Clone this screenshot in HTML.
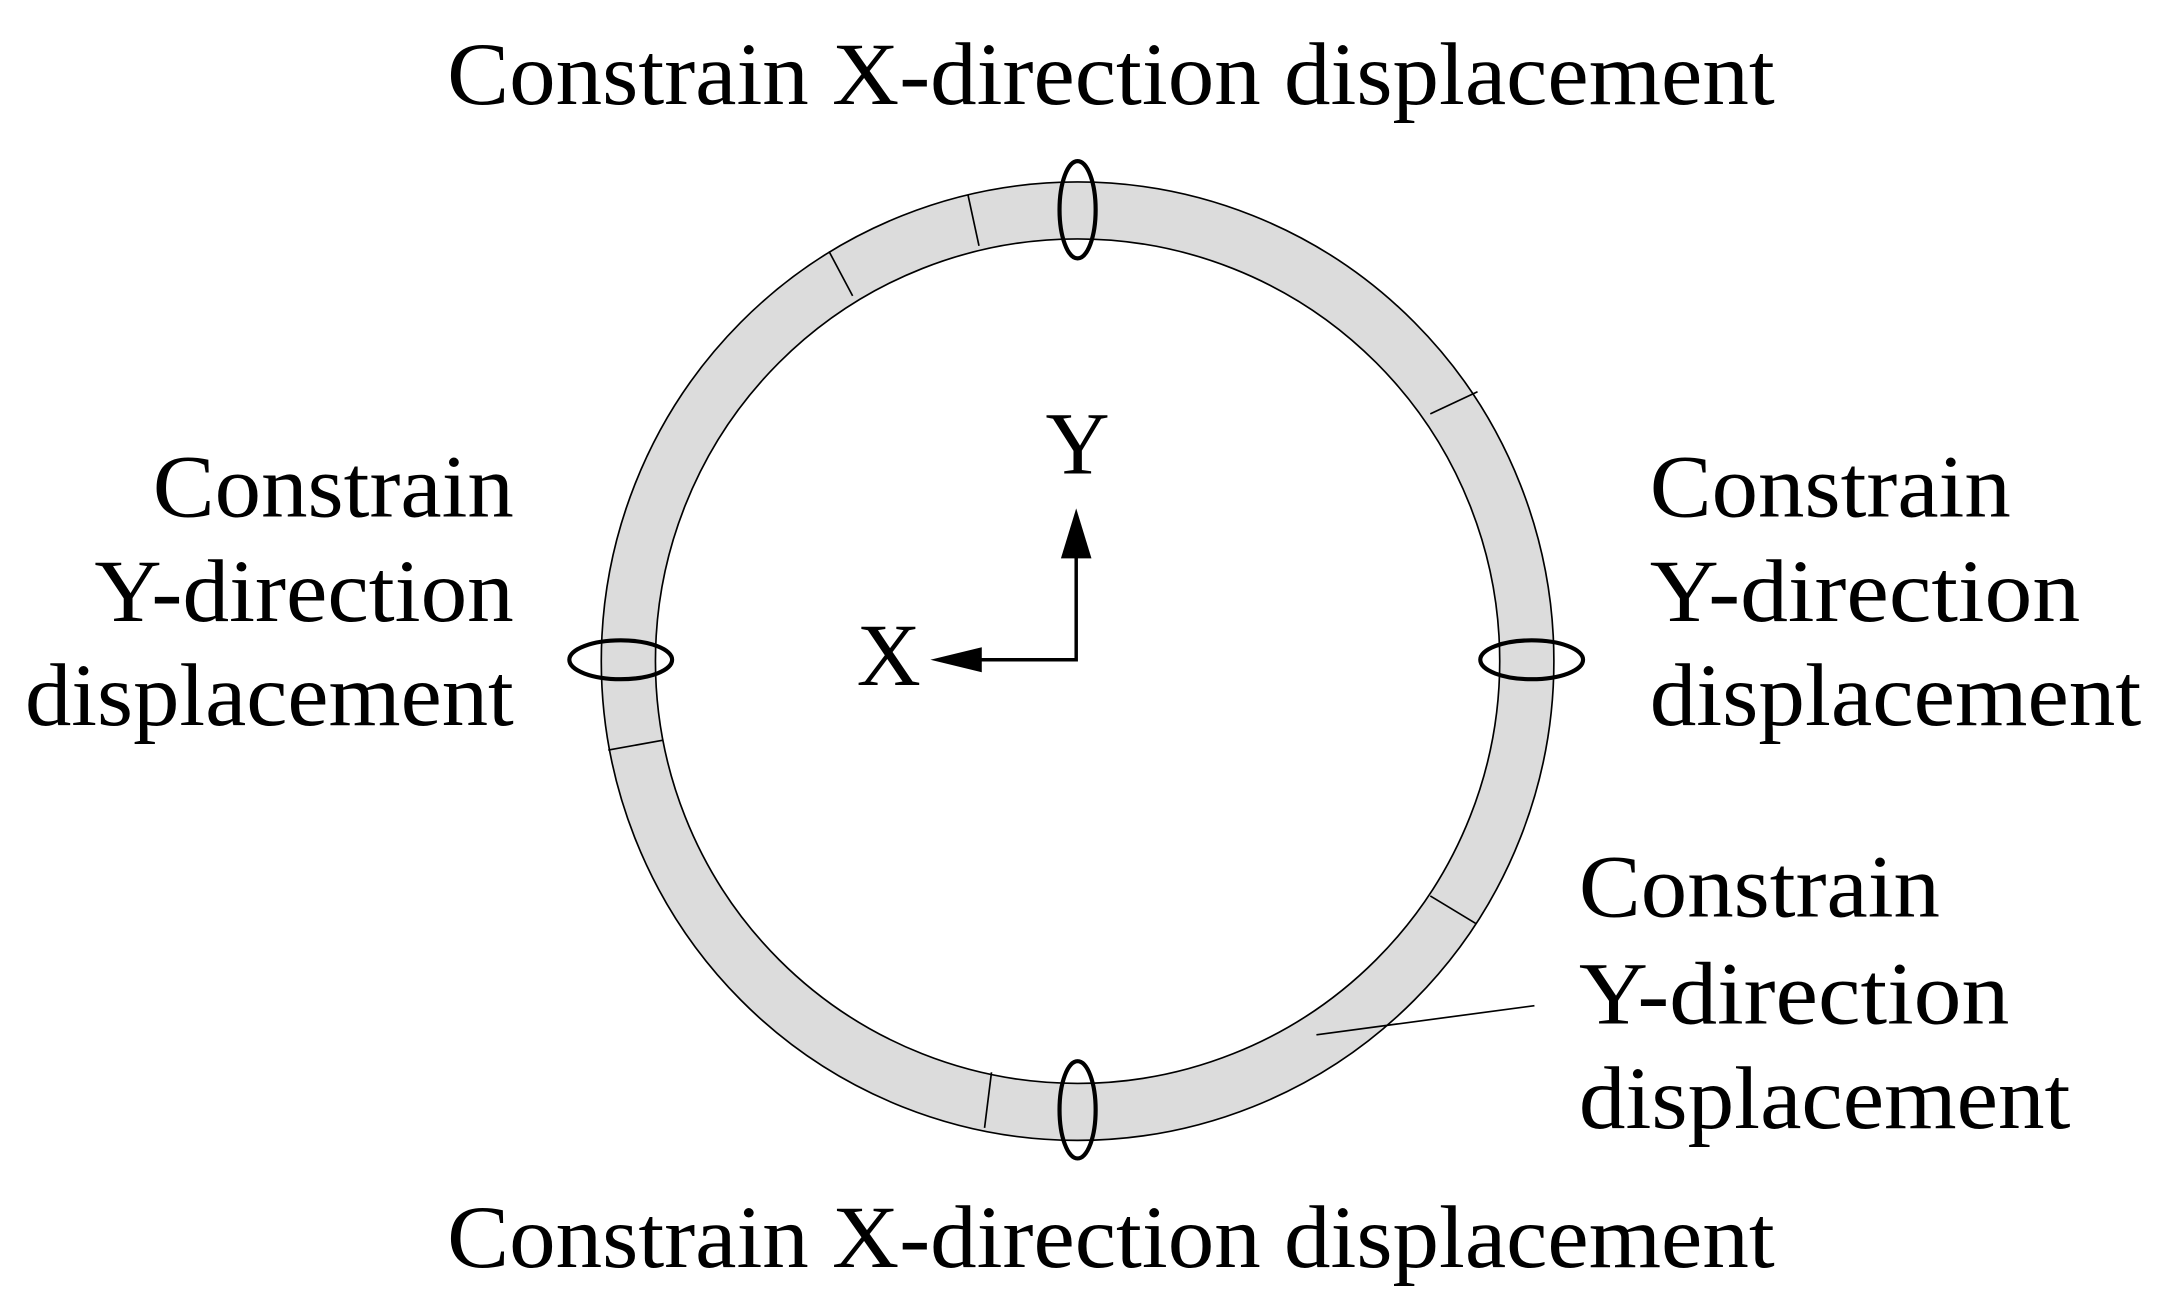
<!DOCTYPE html>
<html><head><meta charset="utf-8"><style>
html,body{margin:0;padding:0;background:#fff;}
svg{display:block;}
text{font-family:"Liberation Serif",serif;fill:#000;font-size:64px;}
</style></head><body>
<svg width="2176" height="1314" viewBox="0 0 1567 946" preserveAspectRatio="none" xmlns="http://www.w3.org/2000/svg">
<path fill-rule="evenodd" fill="#dcdcdc" stroke="#000" stroke-width="1.2" d="M433,476 a343,345 0 1,0 686,0 a343,345 0 1,0 -686,0 Z M472,476 a304,304 0 1,0 608,0 a304,304 0 1,0 -608,0 Z"/>
<g stroke="#000" stroke-width="1.2">
<line x1="697" y1="140" x2="705" y2="177"/>
<line x1="597" y1="181" x2="614" y2="213"/>
<line x1="1030" y1="298" x2="1064" y2="282"/>
<line x1="438" y1="540" x2="477" y2="533"/>
<line x1="1030" y1="645" x2="1063" y2="665"/>
<line x1="714" y1="772" x2="709" y2="812"/>
<line x1="948" y1="745" x2="1105" y2="724"/>
</g>
<g fill="none" stroke="#000" stroke-width="3">
<ellipse cx="776" cy="151" rx="13" ry="35"/>
<ellipse cx="776" cy="799" rx="13" ry="35"/>
<ellipse cx="447" cy="475" rx="37" ry="14"/>
<ellipse cx="1103" cy="475" rx="37" ry="14"/>
</g>
<g stroke="#000" stroke-width="2.5" fill="none">
<polyline points="775,398 775,475 704,475"/>
</g>
<polygon points="775,366 764,402 786,402" fill="#000"/>
<polygon points="670,475 707,466 707,484" fill="#000"/>
<text x="776" y="341" text-anchor="middle">Y</text>
<text x="640" y="493" text-anchor="middle">X</text>
<text x="322" y="75" textLength="956" lengthAdjust="spacingAndGlyphs">Constrain X-direction displacement</text>
<text x="322" y="912" textLength="956" lengthAdjust="spacingAndGlyphs">Constrain X-direction displacement</text>
<g text-anchor="end">
<text x="370" y="372" textLength="260" lengthAdjust="spacingAndGlyphs">Constrain</text>
<text x="370" y="447" textLength="302" lengthAdjust="spacingAndGlyphs">Y-direction</text>
<text x="370" y="522" textLength="352" lengthAdjust="spacingAndGlyphs">displacement</text>
</g>
<text x="1188" y="372" textLength="260" lengthAdjust="spacingAndGlyphs">Constrain</text>
<text x="1188" y="447" textLength="310" lengthAdjust="spacingAndGlyphs">Y-direction</text>
<text x="1188" y="522" textLength="354" lengthAdjust="spacingAndGlyphs">displacement</text>
<text x="1137" y="660" textLength="260" lengthAdjust="spacingAndGlyphs">Constrain</text>
<text x="1137" y="737" textLength="310" lengthAdjust="spacingAndGlyphs">Y-direction</text>
<text x="1137" y="812" textLength="354" lengthAdjust="spacingAndGlyphs">displacement</text>
</svg>
</body></html>
